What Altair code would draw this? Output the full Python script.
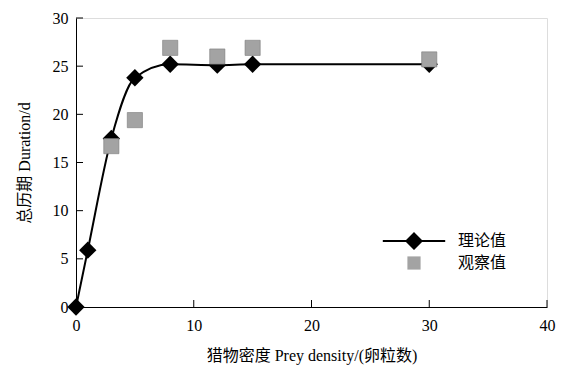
import altair as alt
import pandas as pd

# Data
theory_x = [0, 1, 3, 5, 8, 12, 15, 30]
theory_y = [0.0, 5.9, 17.5, 23.8, 25.2, 25.1, 25.2, 25.2]
obs_x = [3, 5, 8, 12, 15, 30]
obs_y = [16.7, 19.4, 26.9, 26.0, 26.9, 25.7]
series_names = ["理论值", "观察值"]
x_tick_values = [0, 10, 20, 30, 40]
y_tick_values = [0, 5, 10, 15, 20, 25, 30]

theory = pd.DataFrame({"x": theory_x, "y": theory_y, "series": series_names[0]})
obs = pd.DataFrame({"x": obs_x, "y": obs_y, "series": series_names[1]})
both = pd.concat([theory, obs], ignore_index=True)
xt = pd.DataFrame({"v": x_tick_values})
yt = pd.DataFrame({"v": y_tick_values})

W, H = 471, 289
NUMFONT = "Liberation Serif"
SERIF = "'Liberation Serif', 'Noto Sans CJK SC', serif"

xscale = alt.Scale(domain=[0, 40], nice=False, zero=False)
yscale = alt.Scale(domain=[0, 30], nice=False, zero=False)

xaxis = alt.Axis(values=x_tick_values, ticks=False, grid=False, labelFont=NUMFONT,
                 labelFontSize=16, labelColor="black", labelPadding=10, domainColor="black",
                 labelFlush=False,
                 title="猎物密度 Prey density/(卵粒数)", titleFont=SERIF, titleFontSize=16,
                 titleFontWeight="normal", titleColor="black", titlePadding=14)
yaxis = alt.Axis(values=y_tick_values, ticks=False, grid=False, labelFont=NUMFONT,
                 labelFontSize=16, labelColor="black", labelPadding=8, domainColor="black",
                 labelFlush=False,
                 title="总历期 Duration/d", titleFont=SERIF, titleFontSize=16,
                 titleFontWeight="normal", titleColor="black", titlePadding=20)

base = alt.Chart(theory)

line = base.mark_line(color="black", strokeWidth=2, interpolate="monotone").encode(
    x=alt.X("x:Q", scale=xscale, axis=xaxis),
    y=alt.Y("y:Q", scale=yscale, axis=yaxis),
)
diamonds = base.mark_point(shape="diamond", filled=True, color="black", size=300, opacity=1).encode(
    x=alt.X("x:Q", scale=xscale), y=alt.Y("y:Q", scale=yscale)
)
squares = alt.Chart(obs).mark_point(shape="square", filled=True, color="#a3a3a3", size=230,
                                    opacity=1, stroke="#7a7a7a", strokeWidth=0.6).encode(
    x=alt.X("x:Q", scale=xscale), y=alt.Y("y:Q", scale=yscale)
)

LINE_DIAMOND = "M-2.6,-0.08H2.6V0.08H-2.6Z M0,-0.75L0.75,0L0,0.75L-0.75,0Z"
SMALL_SQUARE = "M-0.55,-0.55H0.55V0.55H-0.55Z"

leg = alt.Legend(title=None, orient="none", legendX=326, legendY=211,
                 symbolSize=576, symbolOpacity=1, symbolStrokeWidth=0,
                 labelFont="Noto Sans CJK SC", labelFontSize=16,
                 labelColor="black", labelOffset=32, rowPadding=1, padding=0)

legend_layer = alt.Chart(both).mark_point(filled=True, opacity=0, size=576).encode(
    x=alt.X("x:Q", scale=xscale), y=alt.Y("y:Q", scale=yscale),
    shape=alt.Shape("series:N", scale=alt.Scale(domain=series_names, range=[LINE_DIAMOND, SMALL_SQUARE]),
                    legend=leg),
    color=alt.Color("series:N", scale=alt.Scale(domain=series_names, range=["black", "#a3a3a3"]),
                    legend=leg),
)

xticks = alt.Chart(xt).mark_rule(color="black", strokeWidth=1).encode(
    x=alt.X("v:Q", scale=xscale), y=alt.value(H), y2=alt.value(H - 7)
)
yticks = alt.Chart(yt).mark_rule(color="black", strokeWidth=1).encode(
    y=alt.Y("v:Q", scale=yscale), x=alt.value(0), x2=alt.value(7)
)

chart = alt.layer(xticks, yticks, line, diamonds, squares, legend_layer).properties(
    width=W, height=H,
    autosize=alt.AutoSizeParams(type="none"),
    padding={"left": 68, "top": 10, "right": 12, "bottom": 62},
).configure_view(stroke=None).configure(background="white")

chart.save("out.html", embed_options={"renderer": "svg", "actions": False})
